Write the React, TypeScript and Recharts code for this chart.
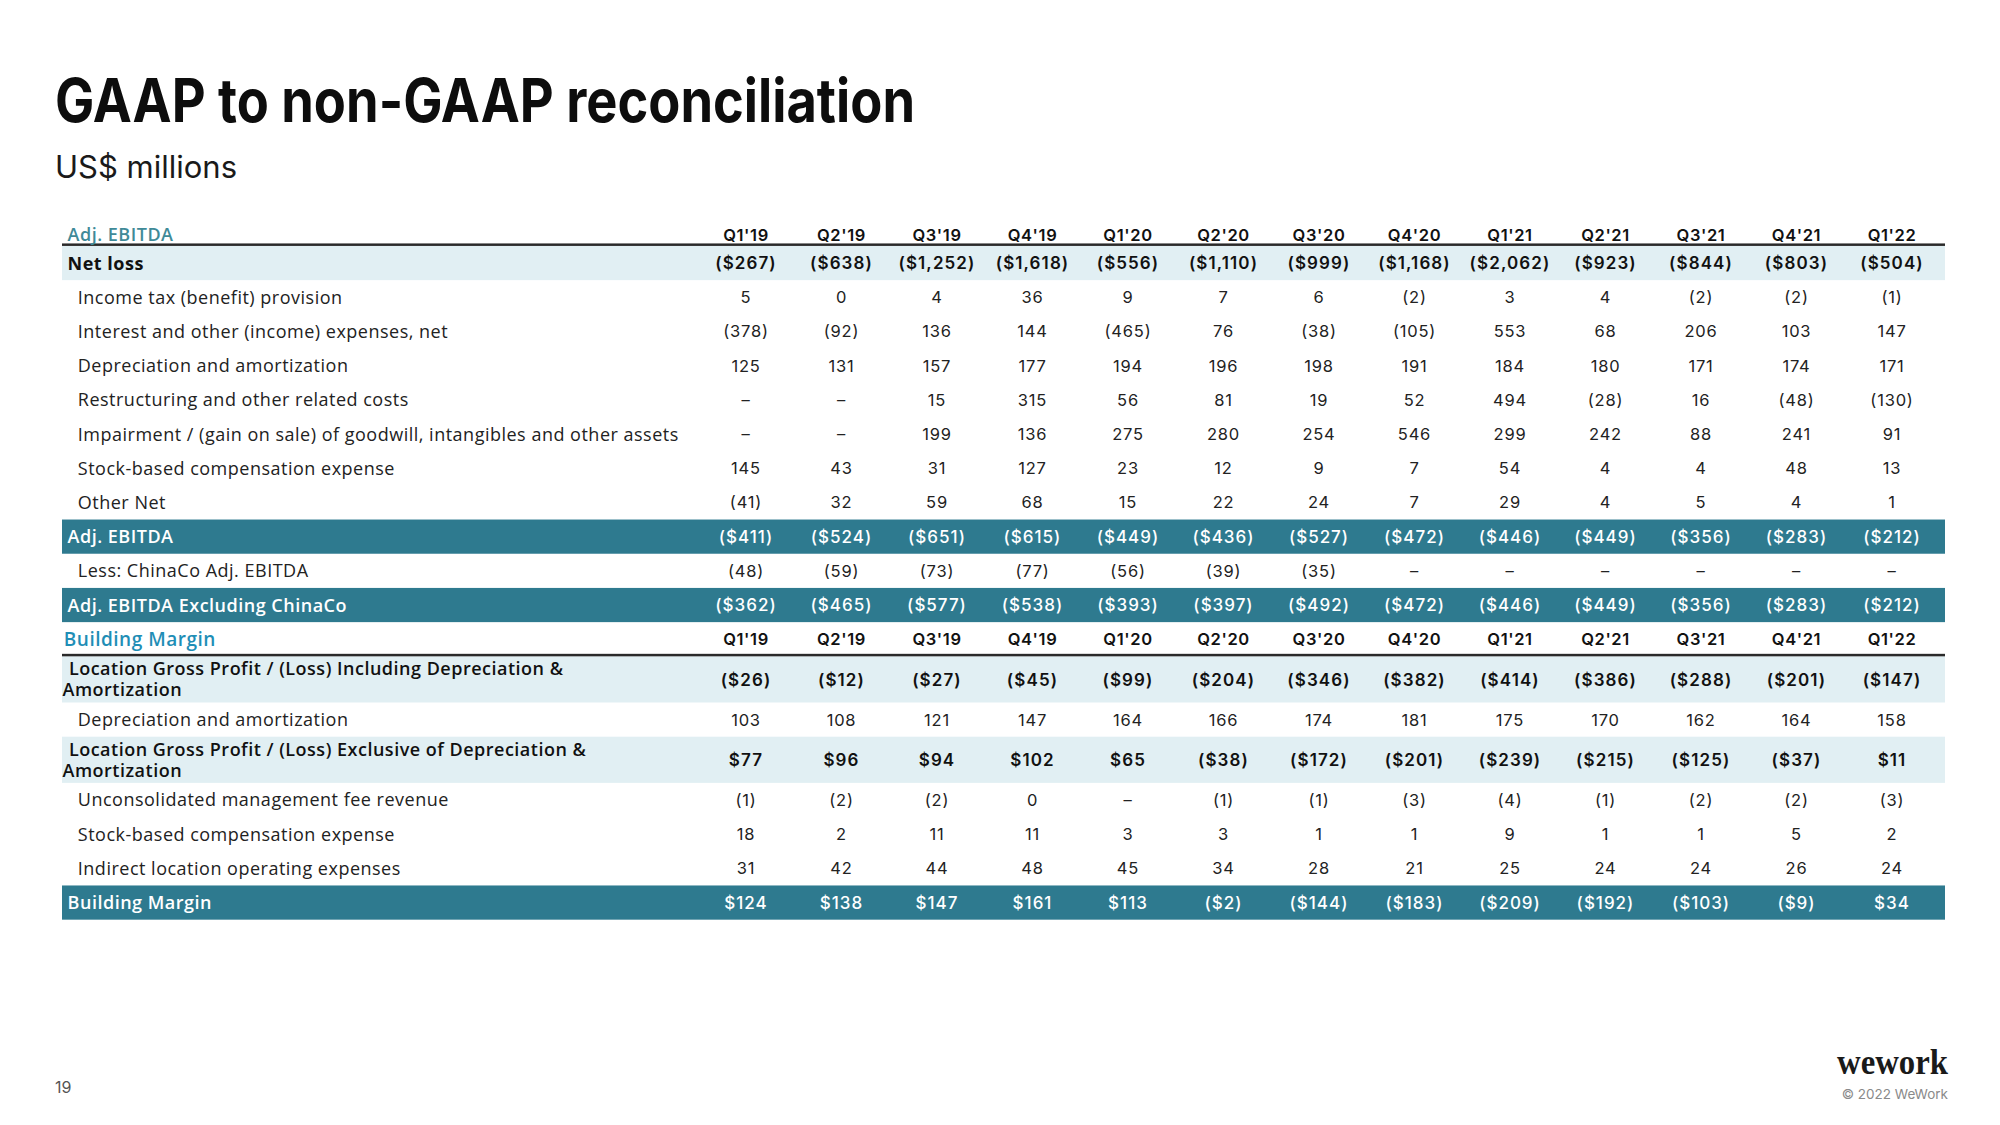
import React from 'react';
import { ComposedChart, XAxis, YAxis, Scatter, ReferenceArea } from 'recharts';

// ---------------- DATA ----------------
const quarters = ["Q1'19", "Q2'19", "Q3'19", "Q4'19", "Q1'20", "Q2'20", "Q3'20", "Q4'20", "Q1'21", "Q2'21", "Q3'21", "Q4'21", "Q1'22"];

const netLoss = [-267, -638, -1252, -1618, -556, -1110, -999, -1168, -2062, -923, -844, -803, -504];
const incomeTax = [5, 0, 4, 36, 9, 7, 6, -2, 3, 4, -2, -2, -1];
const interestOther = [-378, -92, 136, 144, -465, 76, -38, -105, 553, 68, 206, 103, 147];
const depreciation = [125, 131, 157, 177, 194, 196, 198, 191, 184, 180, 171, 174, 171];
const restructuring = [null, null, 15, 315, 56, 81, 19, 52, 494, -28, 16, -48, -130];
const impairment = [null, null, 199, 136, 275, 280, 254, 546, 299, 242, 88, 241, 91];
const stockComp = [145, 43, 31, 127, 23, 12, 9, 7, 54, 4, 4, 48, 13];
const otherNet = [-41, 32, 59, 68, 15, 22, 24, 7, 29, 4, 5, 4, 1];
const adjEbitda = [-411, -524, -651, -615, -449, -436, -527, -472, -446, -449, -356, -283, -212];
const lessChinaCo = [-48, -59, -73, -77, -56, -39, -35, null, null, null, null, null, null];
const adjExChinaCo = [-362, -465, -577, -538, -393, -397, -492, -472, -446, -449, -356, -283, -212];
const lgpIncl = [-26, -12, -27, -45, -99, -204, -346, -382, -414, -386, -288, -201, -147];
const depreciationBM = [103, 108, 121, 147, 164, 166, 174, 181, 175, 170, 162, 164, 158];
const lgpExcl = [77, 96, 94, 102, 65, -38, -172, -201, -239, -215, -125, -37, 11];
const unconsolidatedFee = [-1, -2, -2, 0, null, -1, -1, -3, -4, -1, -2, -2, -3];
const stockCompBM = [18, 2, 11, 11, 3, 3, 1, 1, 9, 1, 1, 5, 2];
const indirectExpenses = [31, 42, 44, 48, 45, 34, 28, 21, 25, 24, 24, 26, 24];
const buildingMargin = [124, 138, 147, 161, 113, -2, -144, -183, -209, -192, -103, -9, 34];

type Kind = 'header1' | 'header2' | 'total' | 'item' | 'band' | 'subtotal';
interface RowDef { label: string[]; kind: Kind; values?: (number | null)[]; dollar?: boolean }

const rowDefs: RowDef[] = [
  { label: ['Adj. EBITDA'], kind: 'header1' },
  { label: ['Net loss'], kind: 'total', values: netLoss, dollar: true },
  { label: ['Income tax (benefit) provision'], kind: 'item', values: incomeTax },
  { label: ['Interest and other (income) expenses, net'], kind: 'item', values: interestOther },
  { label: ['Depreciation and amortization'], kind: 'item', values: depreciation },
  { label: ['Restructuring and other related costs'], kind: 'item', values: restructuring },
  { label: ['Impairment / (gain on sale) of goodwill, intangibles and other assets'], kind: 'item', values: impairment },
  { label: ['Stock-based compensation expense'], kind: 'item', values: stockComp },
  { label: ['Other Net'], kind: 'item', values: otherNet },
  { label: ['Adj. EBITDA'], kind: 'band', values: adjEbitda, dollar: true },
  { label: ['Less: ChinaCo Adj. EBITDA'], kind: 'item', values: lessChinaCo },
  { label: ['Adj. EBITDA Excluding ChinaCo'], kind: 'band', values: adjExChinaCo, dollar: true },
  { label: ['Building Margin'], kind: 'header2' },
  { label: ['Location Gross Profit / (Loss) Including Depreciation &', 'Amortization'], kind: 'subtotal', values: lgpIncl, dollar: true },
  { label: ['Depreciation and amortization'], kind: 'item', values: depreciationBM },
  { label: ['Location Gross Profit / (Loss) Exclusive of Depreciation &', 'Amortization'], kind: 'subtotal', values: lgpExcl, dollar: true },
  { label: ['Unconsolidated management fee revenue'], kind: 'item', values: unconsolidatedFee },
  { label: ['Stock-based compensation expense'], kind: 'item', values: stockCompBM },
  { label: ['Indirect location operating expenses'], kind: 'item', values: indirectExpenses },
  { label: ['Building Margin'], kind: 'band', values: buildingMargin, dollar: true },
];

// ---------------- LAYOUT / STYLE ----------------
const ROW_UNIT = 34.2;
const KIND_HEIGHT: Record<Kind, number> = { header1: 0.65, header2: 1, total: 1, item: 1, band: 1, subtotal: 1.35 };

const layout = (() => {
  let acc = 0;
  return rowDefs.map((r) => {
    const top = acc;
    acc += KIND_HEIGHT[r.kind];
    return { top, bottom: acc, center: (top + acc) / 2 };
  });
})();
const TOTAL_UNITS = layout[layout.length - 1].bottom;

const CHART_W = 1984;
const CHART_H = 1000;
const YAXIS_W = 636.25;
const MARGIN = { top: 215.7, left: 54, right: 52.25, bottom: CHART_H - 215.7 - TOTAL_UNITS * ROW_UNIT };
const COL_PAD = 47.75; // half a column, so point positions sit in column centres
const TABLE_LEFT = 54;
const TABLE_RIGHT = 1937;

const DARK = '#2e7a8f';
const LIGHT = '#e1eff3';
const NUM_FONT = 'Inter, sans-serif';
const LABEL_FONT = '"Open Sans", sans-serif';

const LABEL_STYLE: Record<Kind, { x: number; fill: string; weight: number; size: number }> = {
  header1: { x: 59.6, fill: '#3f8a98', weight: 600, size: 18 },
  header2: { x: 55.8, fill: '#1f8eb6', weight: 600, size: 19 },
  total: { x: 59.6, fill: '#111', weight: 700, size: 18 },
  item: { x: 69.8, fill: '#222', weight: 400, size: 18 },
  band: { x: 59.6, fill: '#fff', weight: 600, size: 18 },
  subtotal: { x: 60.9, fill: '#111', weight: 600, size: 18 },
};

const CELL_STYLE: Record<Kind, { fill: string; weight: number; size: number; ls: number }> = {
  header1: { fill: '#111', weight: 600, size: 16.5, ls: 0.6 },
  header2: { fill: '#111', weight: 600, size: 16.5, ls: 0.6 },
  total: { fill: '#111', weight: 600, size: 17, ls: 1.1 },
  item: { fill: '#222', weight: 400, size: 16.5, ls: 0.8 },
  band: { fill: '#fff', weight: 500, size: 17, ls: 1.0 },
  subtotal: { fill: '#111', weight: 600, size: 17, ls: 1.1 },
};

const fmt = (v: number | null | undefined, dollar: boolean) => {
  if (v === null || v === undefined) return '–';
  const abs = Math.abs(v).toLocaleString('en-US');
  const s = dollar ? `$${abs}` : abs;
  return v < 0 ? `(${s})` : s;
};

const cells = rowDefs.flatMap((r, ri) =>
  quarters.map((q, qi) => ({
    q,
    y: layout[ri].center,
    kind: r.kind,
    text: r.values ? fmt(r.values[qi], !!r.dollar) : q,
  }))
);

const CellText = (p: any) => {
  const { cx, cy, payload } = p;
  const st = CELL_STYLE[payload.kind as Kind];
  return (
    <text x={cx} y={cy} dy="0.36em" textAnchor="middle" fontFamily={NUM_FONT} fontSize={st.size}
      fontWeight={st.weight} fill={st.fill} letterSpacing={st.ls}>
      {payload.text}
    </text>
  );
};

const RowLabel = (p: any) => {
  const v = p?.payload?.value;
  const idx = layout.findIndex((l) => Math.abs(l.center - v) < 1e-6);
  if (idx < 0) return <g />;
  const r = rowDefs[idx];
  const st = LABEL_STYLE[r.kind];
  const y = p.y;
  if (r.label.length === 2) {
    return (
      <text fontFamily={LABEL_FONT} fontSize={st.size} fontWeight={st.weight} fill={st.fill} letterSpacing={0.5}>
        <tspan x={st.x} y={y - 10.5} dy="0.36em">{r.label[0]}</tspan>
        <tspan x={54.5} y={y + 10.5} dy="0.36em">{r.label[1]}</tspan>
      </text>
    );
  }
  return (
    <text x={st.x} y={y} dy="0.36em" fontFamily={LABEL_FONT} fontSize={st.size} fontWeight={st.weight}
      fill={st.fill} letterSpacing={0.5}>
      {r.label[0]}
    </text>
  );
};

const bandShape = (fill: string) => (p: any) => (
  <rect x={TABLE_LEFT} y={p.y} width={TABLE_RIGHT - TABLE_LEFT} height={p.height} fill={fill} />
);

const ruleShape = (p: any) => (
  <rect x={TABLE_LEFT} y={p.y + p.height - 2.5} width={TABLE_RIGHT - TABLE_LEFT} height={2.5} fill="#2a2a2a" />
);

const bandFill = (k: Kind) => (k === 'band' ? DARK : k === 'total' || k === 'subtotal' ? LIGHT : null);

export default function App() {
  return (
    <div style={{ position: 'relative', width: CHART_W, height: 1109, background: '#fff', overflow: 'hidden' }}>
      <svg width={CHART_W} height={1109} style={{ position: 'absolute', left: 0, top: 0 }}>
        <text x={47} y={114} fontFamily="Inter, sans-serif" fontWeight={700} fontSize={60} fill="#0d0d0d"
          textLength={860} lengthAdjust="spacingAndGlyphs">GAAP to non-GAAP reconciliation</text>
        <text x={47} y={169.5} fontFamily="Inter, sans-serif" fontSize={31} fill="#1a1a1a">US$ millions</text>
        <text x={47} y={1084.5} fontFamily="Inter, sans-serif" fontSize={16} fill="#555">19</text>
        <text x={1940} y={1066} textAnchor="end" fontFamily='"Liberation Serif", serif' fontWeight={700} fontSize={36}
          fill="#1a1a1a" textLength={111} lengthAdjust="spacingAndGlyphs">wework</text>
        <text x={1940} y={1091} textAnchor="end" fontFamily="Inter, sans-serif" fontSize={13.5} fill="#8a8a8a">© 2022 WeWork</text>
      </svg>
      <div style={{ position: 'absolute', left: 0, top: 0 }}>
        <ComposedChart width={CHART_W} height={CHART_H} margin={MARGIN}>
          {rowDefs.map((r, i) => {
            const f = bandFill(r.kind);
            return f ? (
              <ReferenceArea key={`band-${i}`} y1={layout[i].top} y2={layout[i].bottom} ifOverflow="visible"
                shape={bandShape(f)} />
            ) : null;
          })}
          {rowDefs.map((r, i) =>
            r.kind === 'header1' || r.kind === 'header2' ? (
              <ReferenceArea key={`rule-${i}`} y1={layout[i].top} y2={layout[i].bottom} ifOverflow="visible" shape={ruleShape} />
            ) : null
          )}
          <XAxis type="category" dataKey="q" allowDuplicatedCategory={false} hide
            padding={{ left: COL_PAD, right: COL_PAD }} />
          <YAxis type="number" dataKey="y" domain={[0, TOTAL_UNITS]} reversed allowDataOverflow
            ticks={layout.map((l) => l.center)} interval={0} width={YAXIS_W} tickLine={false} axisLine={false}
            tick={RowLabel} />
          <Scatter data={cells} shape={CellText} isAnimationActive={false} />
        </ComposedChart>
      </div>
    </div>
  );
}
